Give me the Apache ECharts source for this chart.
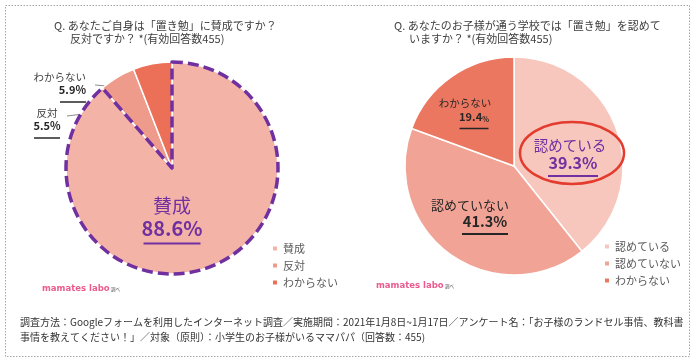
<!DOCTYPE html>
<html><head><meta charset="utf-8">
<script src="https://cdn.jsdelivr.net/npm/echarts@6/dist/echarts.min.js"></script>
<style>html,body{margin:0;padding:0;background:#fff}#c{width:700px;height:364px}</style>
</head><body><div id="c"></div>
<script>
const leftCats = ['賛成', '反対', 'わからない'];
const leftVals = [88.6, 5.5, 5.9];
const rightCats = ['認めている', '認めていない', 'わからない'];
const rightVals = [39.3, 41.3, 19.4];
const leftTitle = ['Q. あなたご自身は「置き勉」に賛成ですか？', '反対ですか？ *(有効回答数455)'];
const rightTitle = ['Q. あなたのお子様が通う学校では「置き勉」を認めて', 'いますか？ *(有効回答数455)'];
const footer = ['調査方法：Googleフォームを利用したインターネット調査／実施期間：2021年1月8日~1月17日／アンケート名：「お子様のランドセル事情、教科書',
  '事情を教えてください！」／対象（原則）：小学生のお子様がいるママパパ（回答数：455)'];

const FONT = '"Noto Sans CJK JP", "Noto Sans", sans-serif';
const PURPLE = '#7030a0';
const DARK = '#262626';
const leftColors = ['#f4b3a7', '#ef9b8c', '#ec6f58'];
const rightColors = ['#f7c6bd', '#f1a395', '#ec7761'];

const fmt = '{n|{b}}\n{sp|}{p|{c}%}\n{sp|}{u|}';
const leftLabels = [
  {show: true, position: 'inside', formatter: fmt, rich: {
    n: {fontSize: 19, color: PURPLE, lineHeight: 26, fontFamily: FONT},
    sp: {width: 0},
    p: {fontSize: 20, fontWeight: 'bold', color: PURPLE, lineHeight: 19, fontFamily: FONT},
    u: {width: 57, height: 2, backgroundColor: PURPLE, lineHeight: 2}}},
  {show: true, position: 'outside', formatter: fmt, rich: {
    n: {fontSize: 10.5, color: '#404040', lineHeight: 14, fontFamily: FONT},
    sp: {width: 0},
    p: {fontSize: 11, fontWeight: 'bold', color: DARK, lineHeight: 11, fontFamily: FONT},
    u: {width: 26, height: 1.5, backgroundColor: DARK, lineHeight: 2}}},
  {show: true, position: 'outside', formatter: fmt, rich: {
    n: {fontSize: 10.5, color: '#404040', lineHeight: 14, fontFamily: FONT},
    sp: {width: 0},
    p: {fontSize: 11, fontWeight: 'bold', color: DARK, lineHeight: 11, fontFamily: FONT},
    u: {width: 26, height: 1.5, backgroundColor: DARK, lineHeight: 2}}}
];
const rightLabels = [
  {show: true, position: 'inside', formatter: fmt, rich: {
    n: {fontSize: 14.5, color: PURPLE, lineHeight: 19, fontFamily: FONT},
    sp: {width: 6},
    p: {fontSize: 16, fontWeight: 'bold', color: PURPLE, lineHeight: 15, fontFamily: FONT},
    u: {width: 50, height: 2, backgroundColor: PURPLE, lineHeight: 2}}},
  {show: true, position: 'inside', formatter: fmt, rich: {
    n: {fontSize: 13, color: DARK, lineHeight: 18, fontFamily: FONT},
    sp: {width: 30},
    p: {fontSize: 14.5, fontWeight: 'bold', color: DARK, lineHeight: 14, fontFamily: FONT},
    u: {width: 46, height: 2, backgroundColor: DARK, lineHeight: 2}}},
  {show: true, position: 'inside', formatter: '{n|{b}}\n{sp|}{p|{c}}{s|%}\n{sp|}{u|}', rich: {
    n: {fontSize: 10.5, color: DARK, lineHeight: 15, fontFamily: FONT},
    sp: {width: 18},
    p: {fontSize: 11, fontWeight: 'bold', color: DARK, lineHeight: 11, fontFamily: FONT},
    s: {fontSize: 7, fontWeight: 'bold', color: DARK, lineHeight: 11, fontFamily: FONT, verticalAlign: 'bottom'},
    u: {width: 29, height: 1.5, backgroundColor: DARK, lineHeight: 2}}}
];

const leftLayout = [
  {x: 172, y: 221, align: 'center', verticalAlign: 'middle'},
  {x: 47, y: 125, align: 'center', verticalAlign: 'middle', labelLinePoints: [[67, 116], [100, 112], [140, 107]]},
  {x: 86, y: 89, align: 'right', verticalAlign: 'middle', labelLinePoints: [[95, 85], [130, 88], [164, 92]]}
];
const rightLayout = [
  {x: 570, y: 159, align: 'center', verticalAlign: 'middle'},
  {x: 470, y: 218, align: 'center', verticalAlign: 'middle'},
  {x: 465, y: 115, align: 'center', verticalAlign: 'middle'}
];

const leftData = leftCats.map((n, i) => ({name: n, value: leftVals[i], label: leftLabels[i],
  itemStyle: {color: leftColors[i]}}));
const rightData = rightCats.map((n, i) => ({name: n, value: rightVals[i], label: rightLabels[i],
  itemStyle: {color: rightColors[i]}}));
const overlayData = leftCats.map((n, i) => ({name: n, value: leftVals[i],
  itemStyle: i === 0 ? {color: 'rgba(0,0,0,0)', borderColor: PURPLE, borderWidth: 3.5, borderType: [11, 5], borderJoin: 'round'}
                     : {color: 'rgba(0,0,0,0)', borderWidth: 0}}));

const chart = echarts.init(document.getElementById('c'), null, {renderer: 'canvas'});
const legendText = {fontSize: 11, color: '#595959', fontFamily: FONT};
chart.setOption({
  backgroundColor: '#fff',
  animation: false,
  title: [
    {text: leftTitle[0], left: 49, top: 15, textStyle: {fontSize: 11, fontWeight: 'normal', color: '#404040', fontFamily: FONT}},
    {text: leftTitle[1], left: 65, top: 28, textStyle: {fontSize: 11, fontWeight: 'normal', color: '#404040', fontFamily: FONT}},
    {text: rightTitle[0], left: 389, top: 15, textStyle: {fontSize: 11, fontWeight: 'normal', color: '#404040', fontFamily: FONT}},
    {text: rightTitle[1], left: 404, top: 28, textStyle: {fontSize: 11, fontWeight: 'normal', color: '#404040', fontFamily: FONT}}
  ],
  legend: [
    {orient: 'vertical', left: 271, top: 241, padding: 0, icon: 'rect', itemWidth: 6, itemHeight: 6, itemGap: 2,
      textStyle: Object.assign({lineHeight: 15}, legendText), selectedMode: false,
      data: leftCats.map((n, i) => ({name: n, itemStyle: {color: leftColors[i]}}))},
    {orient: 'vertical', left: 603, top: 239, padding: 0, icon: 'rect', itemWidth: 6, itemHeight: 6, itemGap: 2,
      textStyle: Object.assign({lineHeight: 15}, legendText), selectedMode: false,
      data: rightCats.map((n, i) => ({name: n, itemStyle: {color: rightColors[i]}}))}
  ],
  series: [
    {type: 'pie', center: [172, 168], radius: 106, startAngle: 90, clockwise: true,
      itemStyle: {borderColor: '#fff', borderWidth: 1.5},
      labelLine: {show: true, lineStyle: {color: '#8c8c8c', width: 1}},
      labelLayout: p => leftLayout[p.dataIndex],
      data: leftData},
    {type: 'pie', center: [514, 166], radius: 109, startAngle: 90, clockwise: true,
      itemStyle: {borderColor: '#fff', borderWidth: 1.5},
      labelLine: {show: false},
      labelLayout: p => rightLayout[p.dataIndex],
      data: rightData},
    {type: 'pie', center: [172, 168], radius: 106, startAngle: 90, clockwise: true, silent: true, z: 5,
      label: {show: false}, labelLine: {show: false}, legendHoverLink: false,
      data: overlayData}
  ],
  graphic: [
    {type: 'rect', shape: {x: 5.5, y: 5.5, width: 684, height: 351}, style: {fill: 'none', stroke: '#a6a6a6', lineWidth: 1, lineDash: [1.5, 1.5]}, z: -1},
    {type: 'ellipse', shape: {cx: 572, cy: 153, rx: 52, ry: 31}, style: {fill: 'none', stroke: '#e33b2e', lineWidth: 2.5}, z: 10},
    {type: 'text', left: 42, top: 284, style: {text: 'mamates labo', fill: '#ea5b8e', font: 'bold 8.5px "DejaVu Sans", sans-serif'}},
    {type: 'text', left: 111, top: 287, style: {text: '調べ', fill: '#555', font: '4.5px ' + FONT}},
    {type: 'text', left: 376, top: 281, style: {text: 'mamates labo', fill: '#ea5b8e', font: 'bold 8.5px "DejaVu Sans", sans-serif'}},
    {type: 'text', left: 445, top: 284, style: {text: '調べ', fill: '#555', font: '4.5px ' + FONT}},
    {type: 'text', left: 20, top: 317, style: {text: footer[0], fill: '#333', font: '10px ' + FONT}},
    {type: 'text', left: 20, top: 332, style: {text: footer[1], fill: '#333', font: '10px ' + FONT}}
  ]
});
</script></body></html>
